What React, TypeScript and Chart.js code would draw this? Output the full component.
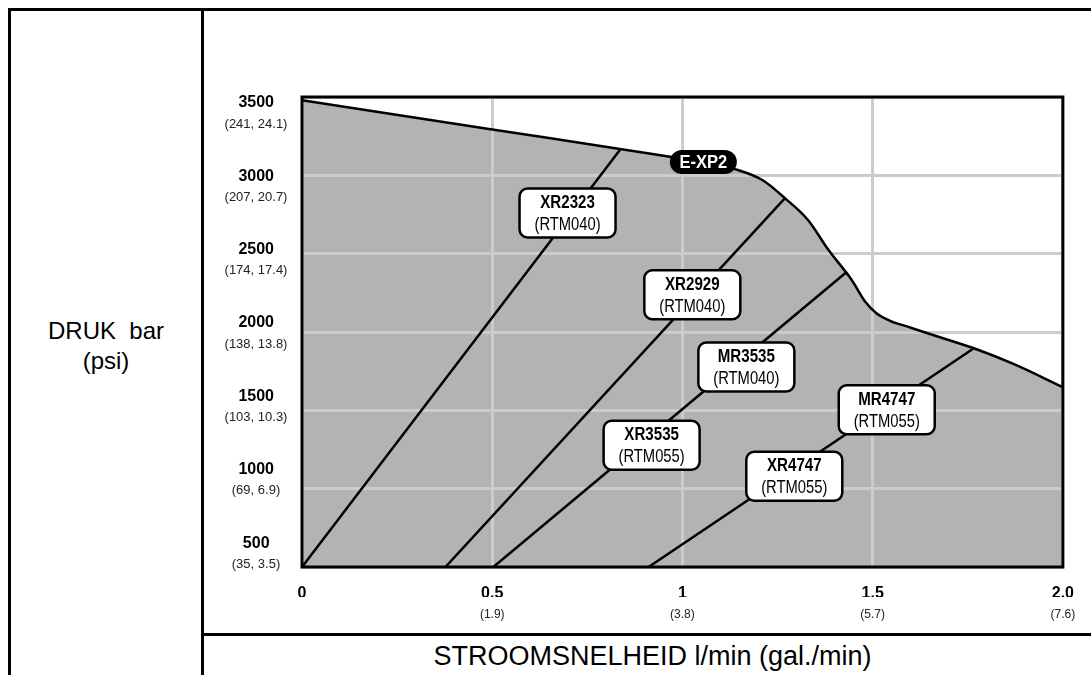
import React, { useEffect, useRef } from "react";
import { Chart, registerables } from "chart.js";

Chart.register(...registerables);

// ---------- data ----------
const flowTicks = [0, 0.5, 1, 1.5, 2];
const flowLabels = ["0", "0.5", "1", "1.5", "2.0"];
const flowSubLabels = ["", "(1.9)", "(3.8)", "(5.7)", "(7.6)"];

const pressureTicks = [500, 1000, 1500, 2000, 2500, 3000, 3500];
const pressureLabels = ["500", "1000", "1500", "2000", "2500", "3000", "3500"];
const pressureSubLabels = [
  "(35, 3.5)",
  "(69, 6.9)",
  "(103, 10.3)",
  "(138, 13.8)",
  "(174, 17.4)",
  "(207, 20.7)",
  "(241, 24.1)",
];

// E-XP2 pump envelope (flow l/min, pressure psi)
const envelopeFlow = [0, 0.5, 0.84, 0.967, 1.06, 1.14, 1.21, 1.27, 1.33, 1.384, 1.445, 1.48, 1.51, 1.547, 1.592, 1.644, 1.766, 1.87, 2.0];
const envelopePressure = [3480, 3293, 3167, 3119, 3084, 3038, 2970, 2853, 2715, 2523, 2332, 2195, 2120, 2070, 2034, 1992, 1896, 1796, 1648];

// nozzle curves
const nozzleFlowStart = [0, 0.377, 0.503, 0.911];
const nozzlePressureStart = [500, 500, 500, 500];
const nozzleFlowEnd = [0.837, 1.269, 1.43, 1.766];
const nozzlePressureEnd = [3166, 2853, 2380, 1896];

// nozzle tags
const tagNames = ["XR2323", "XR2929", "MR3535", "XR3535", "MR4747", "XR4747"];
const tagSubs = ["(RTM040)", "(RTM040)", "(RTM040)", "(RTM055)", "(RTM055)", "(RTM055)"];
const tagFlow = [0.698, 1.026, 1.168, 0.919, 1.537, 1.294];
const tagPressure = [2760, 2238, 1777, 1277, 1504, 1079];

const pumpName = "E-XP2";
const pumpFlow = [1.055];
const pumpPressure = [3085];

const yTitle = ["DRUK\u00a0 bar", "(psi)"];
const xTitle = "STROOMSNELHEID l/min (gal./min)";

// ---------- styles ----------
const SANS = '"Liberation Sans", Arial, Helvetica, sans-serif';

function roundRect(ctx: CanvasRenderingContext2D, x: number, y: number, w: number, h: number, r: number) {
  ctx.beginPath();
  ctx.moveTo(x + r, y);
  ctx.arcTo(x + w, y, x + w, y + h, r);
  ctx.arcTo(x + w, y + h, x, y + h, r);
  ctx.arcTo(x, y + h, x, y, r);
  ctx.arcTo(x, y, x + w, y, r);
  ctx.closePath();
}

// condensed text: draw with a horizontal squeeze
function narrowText(ctx: CanvasRenderingContext2D, text: string, x: number, y: number, font: string, squeeze: number) {
  ctx.save();
  ctx.translate(x, y);
  ctx.scale(squeeze, 1);
  ctx.font = font;
  ctx.fillText(text, 0, 0);
  ctx.restore();
}

const overlayPlugin = {
  id: "overlay",
  afterDatasetsDraw(chart: any) {
    const { ctx, chartArea: a } = chart;
    const xs = chart.scales.x;
    const ys = chart.scales.y;
    ctx.save();
    // plot frame
    ctx.strokeStyle = "#000";
    ctx.lineWidth = 3;
    ctx.strokeRect(a.left, a.top, a.right - a.left, a.bottom - a.top);

    // nozzle tags
    tagNames.forEach((name, i) => {
      const cx = xs.getPixelForValue(tagFlow[i]);
      const cy = ys.getPixelForValue(tagPressure[i]);
      const w = 96;
      const h = 49;
      roundRect(ctx, cx - w / 2, cy - h / 2, w, h, 8);
      ctx.fillStyle = "#fff";
      ctx.fill();
      ctx.lineWidth = 2.5;
      ctx.strokeStyle = "#000";
      ctx.stroke();
      ctx.fillStyle = "#000";
      ctx.textAlign = "center";
      ctx.textBaseline = "middle";
      narrowText(ctx, name, cx, cy - 10, `bold 18px ${SANS}`, 0.84);
      narrowText(ctx, tagSubs[i], cx, cy + 12, `18px ${SANS}`, 0.82);
    });

    // pump pill
    const px = xs.getPixelForValue(pumpFlow[0]);
    const py = ys.getPixelForValue(pumpPressure[0]);
    const pw = 67;
    const ph = 24;
    roundRect(ctx, px - pw / 2, py - ph / 2, pw, ph, 12);
    ctx.fillStyle = "#000";
    ctx.fill();
    ctx.fillStyle = "#fff";
    ctx.textAlign = "center";
    ctx.textBaseline = "middle";
    narrowText(ctx, pumpName, px, py + 1, `bold 18px ${SANS}`, 0.92);

    // secondary pressure labels (bar, MPa) under the psi ticks
    const yp = chart.scales.yp;
    ctx.fillStyle = "#222";
    ctx.font = `13px ${SANS}`;
    ctx.textAlign = "center";
    ctx.textBaseline = "middle";
    pressureTicks.forEach((v, i) => {
      ctx.fillText(pressureSubLabels[i], a.left - 46, yp.getPixelForValue(v));
    });
    ctx.restore();
  },
};

const ticksFrom = (vals: number[]) => (s: any) => {
  s.ticks = vals.map((v) => ({ value: v }));
};
const lookup = (vals: number[], labels: string[]) => (v: any) => {
  const i = vals.indexOf(Number(v));
  return i >= 0 ? labels[i] : "";
};

export default function App() {
  const ref = useRef<HTMLCanvasElement | null>(null);

  useEffect(() => {
    document.body.style.overflow = "hidden";
    const canvas = ref.current;
    if (!canvas) return;

    const nozzleSets = nozzleFlowStart.map((f0, i) => ({
      label: "nozzle" + i,
      data: [
        { x: f0, y: nozzlePressureStart[i] },
        { x: nozzleFlowEnd[i], y: nozzlePressureEnd[i] },
      ],
      borderColor: "#000",
      borderWidth: 2.5,
      pointRadius: 0,
      fill: false,
      tension: 0,
    }));

    const chart = new Chart(canvas, {
      type: "line",
      data: {
        datasets: [
          {
            label: pumpName,
            data: envelopeFlow.map((f, i) => ({ x: f, y: envelopePressure[i] })),
            borderColor: "#000",
            borderWidth: 2.5,
            backgroundColor: "#b3b3b3",
            fill: "start",
            pointRadius: 0,
            cubicInterpolationMode: "monotone",
          },
          ...nozzleSets,
        ],
      },
      options: {
        responsive: false,
        animation: false,
        events: [],
        layout: { padding: { left: 0, top: 97, right: 21, bottom: 48 } },
        plugins: {
          legend: { display: false },
          tooltip: { enabled: false },
          filler: { drawTime: "beforeDraw" },
        },
        scales: {
          x: {
            type: "linear",
            position: "bottom",
            weight: 0,
            min: 0,
            max: 2,
            afterBuildTicks: ticksFrom(flowTicks),
            afterFit: (s: any) => {
              s.height = 30;
            },
            ticks: {
              callback: lookup(flowTicks, flowLabels),
              autoSkip: false,
              maxRotation: 0,
              padding: 17,
              color: "#000",
              font: { family: SANS, size: 16, weight: "bold" },
            },
            grid: { color: "#cccccc", lineWidth: 3, drawTicks: false, tickLength: 0 },
            border: { display: false },
          },
          x2: {
            type: "linear",
            position: "bottom",
            weight: 1,
            min: 0,
            max: 2,
            afterBuildTicks: ticksFrom(flowTicks),
            afterFit: (s: any) => {
              s.height = 30;
            },
            ticks: {
              callback: lookup(flowTicks, flowSubLabels),
              autoSkip: false,
              maxRotation: 0,
              padding: 10,
              color: "#222",
              font: { family: SANS, size: 12 },
            },
            grid: { display: false, drawTicks: false, tickLength: 0 },
            border: { display: false },
          },
          y: {
            type: "linear",
            position: "left",
            weight: 0,
            min: 500,
            max: 3500,
            afterBuildTicks: ticksFrom(pressureTicks),
            afterFit: (s: any) => {
              s.width = 0;
            },
            ticks: { display: false },
            grid: { color: "#cccccc", lineWidth: 3, drawTicks: false, tickLength: 0 },
            border: { display: false },
          },
          yp: {
            type: "linear",
            position: "left",
            display: false,
            weight: 1,
            min: 480,
            max: 3684,
            afterBuildTicks: ticksFrom(pressureTicks),
          },
          yl: {
            type: "linear",
            position: "left",
            weight: 2,
            min: 338.5,
            max: 3538.8,
            afterBuildTicks: ticksFrom(pressureTicks),
            afterFit: (s: any) => {
              s.width = 302;
            },
            ticks: {
              callback: lookup(pressureTicks, pressureLabels),
              autoSkip: false,
              crossAlign: "center",
              padding: 28,
              color: "#000",
              font: { family: SANS, size: 16, weight: "bold" },
            },
            grid: { display: false, drawTicks: false, tickLength: 0 },
            border: { display: false },
          },
        },
      } as any,
      plugins: [overlayPlugin],
    });

    return () => chart.destroy();
  }, []);

  const line = (l: number, t: number, w: number, h: number) => (
    <div style={{ position: "absolute", left: l, top: t, width: w, height: h, background: "#000" }} />
  );

  return (
    <div
      style={{
        position: "absolute",
        left: 0,
        top: 0,
        width: 1091,
        height: 675,
        overflow: "hidden",
        background: "#fff",
      }}
    >
      {line(8, 8, 1083, 3)}
      {line(8, 8, 3, 667)}
      {line(201, 8, 3, 667)}
      {line(201, 633, 890, 3)}
      <div
        style={{
          position: "absolute",
          left: 11,
          top: 316,
          width: 190,
          textAlign: "center",
          fontFamily: SANS,
          fontSize: 24,
          lineHeight: "30px",
          color: "#000",
        }}
      >
        <div>{yTitle[0]}</div>
        <div>{yTitle[1]}</div>
      </div>
      <div
        style={{
          position: "absolute",
          left: 204,
          top: 641,
          width: 897,
          textAlign: "center",
          fontFamily: SANS,
          fontSize: 27,
          lineHeight: "30px",
          color: "#000",
          whiteSpace: "nowrap",
        }}
      >
        {xTitle}
      </div>
      <canvas
        ref={ref}
        width={1091}
        height={675}
        style={{ position: "absolute", left: 0, top: 0, width: 1091, height: 675 }}
      />
    </div>
  );
}
